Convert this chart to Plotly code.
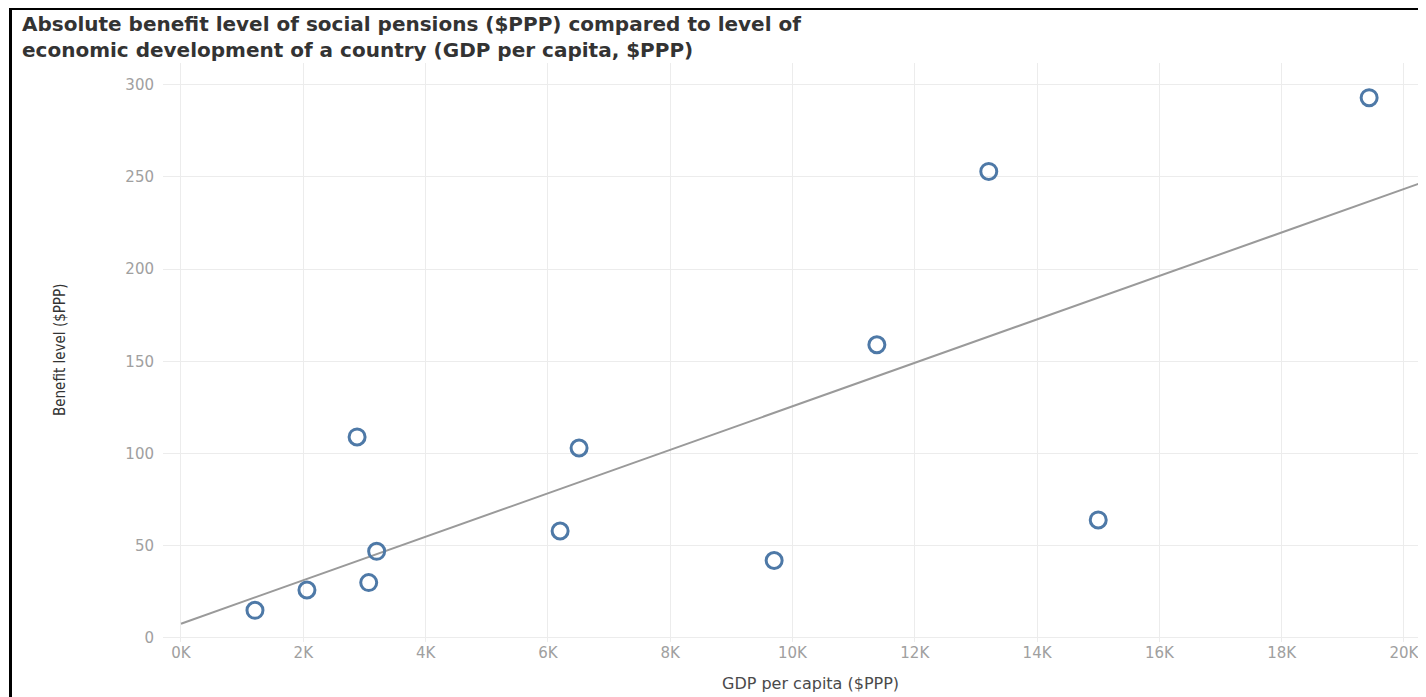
import numpy as np
import plotly.graph_objects as go

# ---- data ----
gdp_per_capita = [1210, 2060, 2880, 3070, 3200, 6200, 6510, 9700, 11380, 13210, 15000, 19430]
benefit_level = [15, 26, 109, 30, 47, 58, 103, 42, 159, 253, 64, 293]

x_tick_vals = [0, 2000, 4000, 6000, 8000, 10000, 12000, 14000, 16000, 18000, 20000]
x_tick_text = ["0K", "2K", "4K", "6K", "8K", "10K", "12K", "14K", "16K", "18K", "20K"]
y_tick_vals = [0, 50, 100, 150, 200, 250, 300]

title_text = ("Absolute benefit level of social pensions ($PPP) compared to level of<br>"
              "economic development of a country (GDP per capita, $PPP)")
x_title = "GDP per capita ($PPP)"
y_title = "Benefit level ($PPP)"

# linear trend line (least squares)
slope, intercept = np.polyfit(gdp_per_capita, benefit_level, 1)
trend_x = [0, 21000]
trend_y = [intercept + slope * v for v in trend_x]

# the page body adds an 8px margin; work in screen pixels and convert
OFF = 8
W, H = 1426 - OFF, 697 - OFF
L, T, B, R = 163 - OFF, 63 - OFF, 55, 0
plot_w = W - L - R
plot_h = H - T - B

def px_x(p):  # screen pixel -> paper x
    return (p - OFF - L) / plot_w

def px_y(p):  # screen pixel -> paper y
    return (H - B - (p - OFF)) / plot_h

fig = go.Figure()
fig.add_trace(go.Scatter(
    x=trend_x, y=trend_y, mode="lines",
    line=dict(color="#9a9a9a", width=2),
    hoverinfo="skip", showlegend=False,
))
fig.add_trace(go.Scatter(
    x=gdp_per_capita, y=benefit_level, mode="markers",
    marker=dict(symbol="circle-open", size=16, color="#4e79a7",
                line=dict(width=3, color="#4e79a7")),
    showlegend=False,
))

fig.update_layout(
    width=W, height=H,
    margin=dict(l=L, r=R, t=T, b=B),
    paper_bgcolor="white", plot_bgcolor="white",
    title=dict(text=title_text, xref="container", yref="container",
               x=(22 - OFF) / W, xanchor="left", y=1 - 23 / H, yanchor="top",
               font=dict(family="DejaVu Sans", size=20, color="#333333", weight="bold")),
    xaxis=dict(range=[-294, 20360], tickvals=x_tick_vals, ticktext=x_tick_text,
               showgrid=True, gridcolor="#ececec", gridwidth=1,
               zeroline=False, showline=False, ticks="",
               tickfont=dict(family="DejaVu Sans", size=15, color="#a0a0a0")),
    yaxis=dict(range=[-2.2, 311.8], tickvals=y_tick_vals,
               showgrid=True, gridcolor="#ececec", gridwidth=1,
               zeroline=False, showline=False, ticks="",
               ticklabelstandoff=8,
               tickfont=dict(family="DejaVu Sans", size=15, color="#a0a0a0")),
    font=dict(family="DejaVu Sans"),
)

fig.add_annotation(text=x_title, xref="paper", yref="paper",
                   x=px_x(810), y=px_y(683), showarrow=False,
                   xanchor="center", yanchor="middle",
                   font=dict(family="DejaVu Sans", size=16, color="#4a4a4a"))
fig.add_annotation(text=y_title, xref="paper", yref="paper",
                   x=px_x(60), y=px_y(350), showarrow=False, textangle=-90,
                   xanchor="center", yanchor="middle",
                   font=dict(family="Liberation Sans Narrow, DejaVu Sans Condensed, Roboto, sans-serif",
                             size=15, color="#333333"))

# black frame at the left and top of the picture
fig.add_shape(type="line", xref="paper", yref="paper",
              x0=px_x(10.5), x1=px_x(10.5), y0=px_y(8.5), y1=px_y(697 + 5),
              line=dict(color="black", width=3))
fig.add_shape(type="line", xref="paper", yref="paper",
              x0=px_x(9), x1=px_x(1426 + 5), y0=px_y(8.5), y1=px_y(8.5),
              line=dict(color="black", width=3))

fig.write_html("out.html")
